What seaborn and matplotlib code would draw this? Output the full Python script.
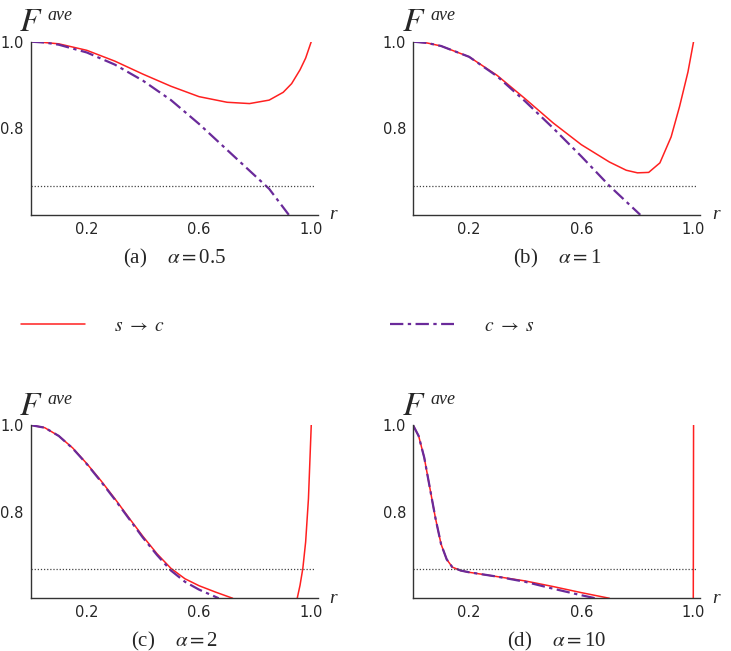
import numpy as np
import pandas as pd
import matplotlib.pyplot as plt
import seaborn as sns
from matplotlib.lines import Line2D

# values
r_a_sc = [0, 0.05, 0.1, 0.2, 0.3, 0.4, 0.5, 0.6, 0.7, 0.78, 0.85, 0.9, 0.93, 0.96, 0.98, 1.0]
f_a_sc = [1.0, 0.998, 0.995, 0.98, 0.955, 0.925, 0.897, 0.873, 0.86, 0.857, 0.865, 0.883, 0.903, 0.935, 0.962, 1.0]
r_a_cs = [0, 0.05, 0.1, 0.2, 0.3, 0.4, 0.5, 0.6, 0.7, 0.8, 0.85, 0.92]
f_a_cs = [1.0, 0.998, 0.993, 0.975, 0.947, 0.91, 0.865, 0.81, 0.75, 0.69, 0.66, 0.6]

r_b_sc = [0, 0.05, 0.1, 0.2, 0.3, 0.4, 0.5, 0.6, 0.7, 0.76, 0.8, 0.84, 0.88, 0.92, 0.95, 0.98, 1.0]
f_b_sc = [1.0, 0.997, 0.99, 0.965, 0.922, 0.868, 0.812, 0.762, 0.722, 0.703, 0.697, 0.698, 0.72, 0.78, 0.85, 0.93, 1.0]
r_b_cs = [0, 0.05, 0.1, 0.2, 0.3, 0.4, 0.5, 0.6, 0.7, 0.81]
f_b_cs = [1.0, 0.997, 0.99, 0.965, 0.92, 0.862, 0.8, 0.735, 0.667, 0.6]

r_c_sc = [0, 0.05, 0.1, 0.15, 0.2, 0.25, 0.3, 0.35, 0.4, 0.45, 0.5, 0.55, 0.6, 0.66, 0.72, 0.8,
          0.95, 0.96, 0.97, 0.98, 0.99, 1.0]
f_c_sc = [1.0, 0.994, 0.975, 0.947, 0.911, 0.872, 0.83, 0.786, 0.743, 0.703, 0.669, 0.645, 0.629, 0.614, 0.6, np.nan,
          0.6, 0.63, 0.669, 0.73, 0.83, 1.0]
r_c_cs = [0, 0.05, 0.1, 0.15, 0.2, 0.25, 0.3, 0.35, 0.4, 0.45, 0.5, 0.55, 0.6, 0.67]
f_c_cs = [1.0, 0.994, 0.975, 0.946, 0.91, 0.87, 0.828, 0.784, 0.74, 0.7, 0.664, 0.638, 0.62, 0.6]

r_d_sc = [0, 0.02, 0.04, 0.06, 0.08, 0.1, 0.12, 0.14, 0.17, 0.2, 0.3, 0.4, 0.5, 0.6, 0.7, 0.8, 0.999, 1.0]
f_d_sc = [1.0, 0.975, 0.925, 0.855, 0.785, 0.725, 0.69, 0.672, 0.664, 0.66, 0.65, 0.64, 0.627, 0.613, 0.6, np.nan, 0.6, 1.0]
r_d_cs = [0, 0.02, 0.04, 0.06, 0.08, 0.1, 0.12, 0.14, 0.17, 0.2, 0.3, 0.4, 0.5, 0.6, 0.65]
f_d_cs = [1.0, 0.975, 0.925, 0.855, 0.785, 0.725, 0.69, 0.672, 0.664, 0.66, 0.65, 0.638, 0.622, 0.607, 0.6]

panels = [
    ('(a)', '0.5', r_a_sc, f_a_sc, r_a_cs, f_a_cs),
    ('(b)', '1', r_b_sc, f_b_sc, r_b_cs, f_b_cs),
    ('(c)', '2', r_c_sc, f_c_sc, r_c_cs, f_c_cs),
    ('(d)', '10', r_d_sc, f_d_sc, r_d_cs, f_d_cs),
]
threshold = 2 / 3
red = '#ff2020'
purple = '#6a2a9a'
dashdot = (0, (6, 2, 1.5, 2))

sns.set_style('white')
plt.rcParams['font.family'] = 'DejaVu Sans'
plt.rcParams['mathtext.fontset'] = 'stix'
fig = plt.figure(figsize=(7.31, 6.51), dpi=100)

lefts = [0.042, 0.565]
bottoms = [0.670, 0.081]
for i, (tag, alpha, r1, f1, r2, f2) in enumerate(panels):
    ax = fig.add_axes([lefts[i % 2], bottoms[i // 2], 0.393, 0.266])
    df1 = pd.DataFrame({'r': r1, 'F': f1})
    df2 = pd.DataFrame({'r': r2, 'F': f2})
    # split at NaN so seaborn doesn't bridge the gap
    for seg in np.split(df1, np.where(df1['F'].isna())[0]):
        seg = seg.dropna()
        sns.lineplot(data=seg, x='r', y='F', ax=ax, color=red, lw=1.1, sort=False)
    sns.lineplot(data=df2, x='r', y='F', ax=ax, color=purple, lw=1.6,
                 linestyle=dashdot, sort=False)
    ax.axhline(threshold, xmin=0.0, xmax=0.985, color='#444444', lw=0.9, ls=(0, (1, 1.5)))
    ax.set_xlim(0, 1.024)
    ax.set_ylim(0.6, 1.0)
    ax.set_xticks([0.2, 0.6, 1.0])
    ax.set_yticks([0.8, 1.0])
    ax.set_xticklabels(['0.2', '0.6', '1.0'])
    ax.set_yticklabels(['0.8', '1.0'])
    ax.tick_params(direction='in', length=3, labelsize=10.5, pad=5)
    ax.set_xlabel('')
    ax.set_ylabel('')
    for s in ['top', 'right']:
        ax.spines[s].set_visible(False)
    for s in ['left', 'bottom']:
        ax.spines[s].set_color('#333333')
        ax.spines[s].set_linewidth(1.0)
    ax.text(-0.04, 1.02, r'$F$', transform=ax.transAxes, fontsize=24,
            va='bottom', ha='left')
    ax.text(0.06, 1.1, 'ave', transform=ax.transAxes, fontsize=13,
            family='Liberation Serif', style='italic', va='bottom', ha='left')
    ax.text(1.04, 0.0, 'r', transform=ax.transAxes, fontsize=14,
            family='Liberation Serif', style='italic', va='center', ha='left')
    ax.text(0.5, -0.25, tag + '    ' + r'$\alpha = $' + alpha, transform=ax.transAxes,
            fontsize=15, family='Liberation Serif', ha='center', va='center')

fig.legend([Line2D([], [], color=red, lw=1.1)], [r'$s\ \rightarrow\ c$'], loc='center left',
           bbox_to_anchor=(0.005, 0.5), frameon=False, fontsize=14,
           handlelength=3.3, handletextpad=1.5)
fig.legend([Line2D([], [], color=purple, lw=1.6, linestyle=dashdot)], [r'$c\ \rightarrow\ s$'],
           loc='center left', bbox_to_anchor=(0.51, 0.5), frameon=False, fontsize=14,
           handlelength=3.3, handletextpad=1.5)

fig.savefig('out.png', dpi=100)
